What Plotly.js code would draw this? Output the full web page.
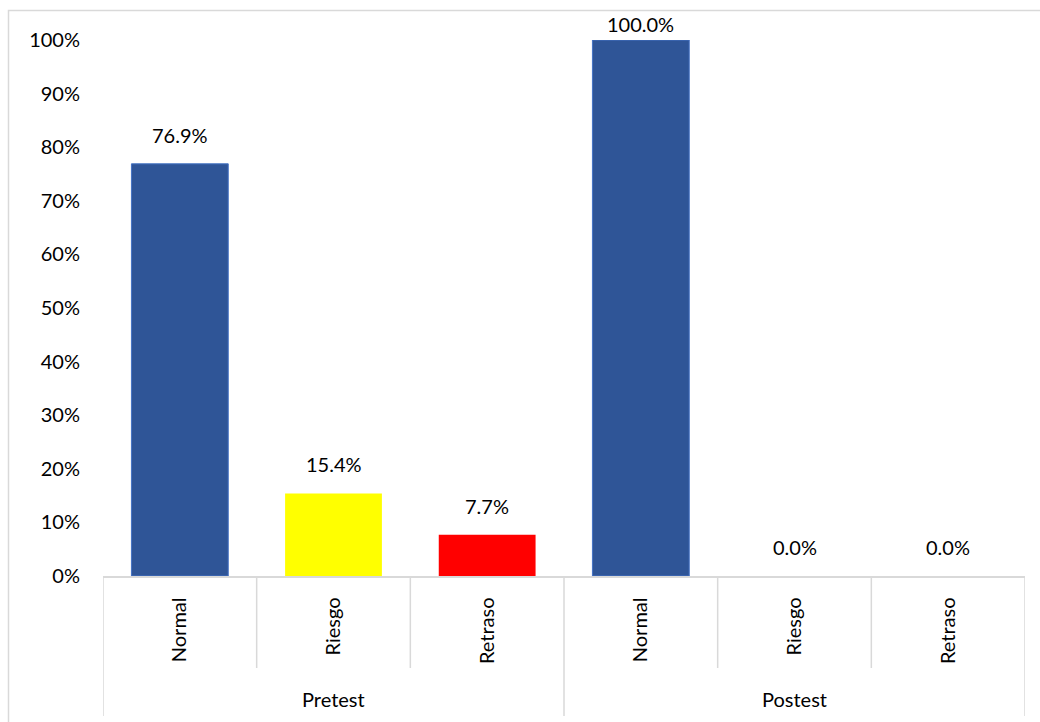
<!DOCTYPE html>
<html>
<head>
<meta charset="utf-8">
<script src="https://cdn.plot.ly/plotly-3.0.1.min.js"></script>
<style>html,body{margin:0;padding:0;background:#fff;}#chart{width:1040px;height:722px;}</style>
</head>
<body>
<div id="chart"></div>
<script>
const categories = ['Normal', 'Riesgo', 'Retraso', 'Normal', 'Riesgo', 'Retraso'];
const groups = ['Pretest', 'Postest'];
const groupOf = ['Pretest', 'Pretest', 'Pretest', 'Postest', 'Postest', 'Postest'];
const values = [76.9, 15.4, 7.7, 100.0, 0.0, 0.0];
const barColors = ['#2F5597', '#FFFF00', '#FF0000', '#2F5597', '#FFFF00', '#FF0000'];
const barLineColors = ['#4472C4', '#FFFF00', '#FF0000', '#4472C4', '#FFFF00', '#FF0000'];
const barLineWidths = [1, 0, 0, 1, 0, 0];
const yTickVals = [0, 10, 20, 30, 40, 50, 60, 70, 80, 90, 100];

const FONT = 'Lato, "Open Sans", sans-serif';
const idx = categories.map((_, i) => i);

// plot area geometry (px) for paper-relative decorations
const W = 1040, H = 722;
const L = 103, R = 1025, T = 40, B = 576;
const pw = R - L, ph = B - T;
const py = y => (B - y) / ph;
const px = x => (x - L) / pw;

const trace = {
  type: 'bar',
  x: idx,
  y: values,
  marker: { color: barColors, line: { color: barLineColors, width: barLineWidths } },
  width: 0.63,
  hoverinfo: 'none',
  showlegend: false
};

const annotations = values.map((v, i) => ({
  x: i, y: v, xref: 'x', yref: 'y',
  text: v.toFixed(1) + '%',
  showarrow: false,
  yanchor: 'bottom',
  yshift: v >= 100 ? 2 : 15,
  font: { family: FONT, size: 20, color: '#000' }
}));

groups.forEach(g => {
  const members = idx.filter(i => groupOf[i] === g);
  const c = members.reduce((a, b) => a + b, 0) / members.length;
  annotations.push({
    x: c, y: py(699), xref: 'x', yref: 'paper',
    text: g, showarrow: false, yanchor: 'middle',
    font: { family: FONT, size: 20, color: '#000' }
  });
});

const shapes = [];
for (let k = 0; k <= categories.length; k++) {
  const isGroupEdge = k === 0 || k === categories.length || groupOf[k] !== groupOf[k - 1];
  shapes.push({
    type: 'line', xref: 'x', yref: 'paper',
    x0: k - 0.5, x1: k - 0.5,
    y0: 0, y1: isGroupEdge ? py(716) : py(668),
    line: { color: '#d9d9d9', width: 1.5 }
  });
}
// chart-area frame (extends beyond the visible picture on right/bottom)
shapes.push({
  type: 'rect', xref: 'paper', yref: 'paper',
  x0: px(8.5), x1: px(1060), y0: py(730), y1: py(10.5),
  line: { color: '#d9d9d9', width: 1.5 }, fillcolor: 'rgba(0,0,0,0)', layer: 'below'
});

const layout = {
  width: W, height: H,
  margin: { l: L, r: W - R, t: T, b: H - B, pad: 0 },
  paper_bgcolor: '#fff', plot_bgcolor: '#fff',
  font: { family: FONT, size: 20, color: '#000' },
  bargap: 0.37,
  xaxis: {
    range: [-0.5, categories.length - 0.5],
    tickvals: idx, ticktext: categories,
    tickangle: -90,
    ticks: '', ticklabelstandoff: 12,
    showline: true, linecolor: '#d9d9d9', linewidth: 1.5,
    showgrid: false, zeroline: false, fixedrange: true,
    tickfont: { family: FONT, size: 20, color: '#000' }
  },
  yaxis: {
    range: [0, 100],
    tickvals: yTickVals,
    ticktext: yTickVals.map(v => v + '%'),
    ticks: '', ticklabelstandoff: 22,
    showline: false, showgrid: false, zeroline: false, fixedrange: true,
    tickfont: { family: FONT, size: 20, color: '#000' }
  },
  annotations: annotations,
  shapes: shapes
};

Plotly.newPlot('chart', [trace], layout, { displayModeBar: false, staticPlot: true });
</script>
</body>
</html>
